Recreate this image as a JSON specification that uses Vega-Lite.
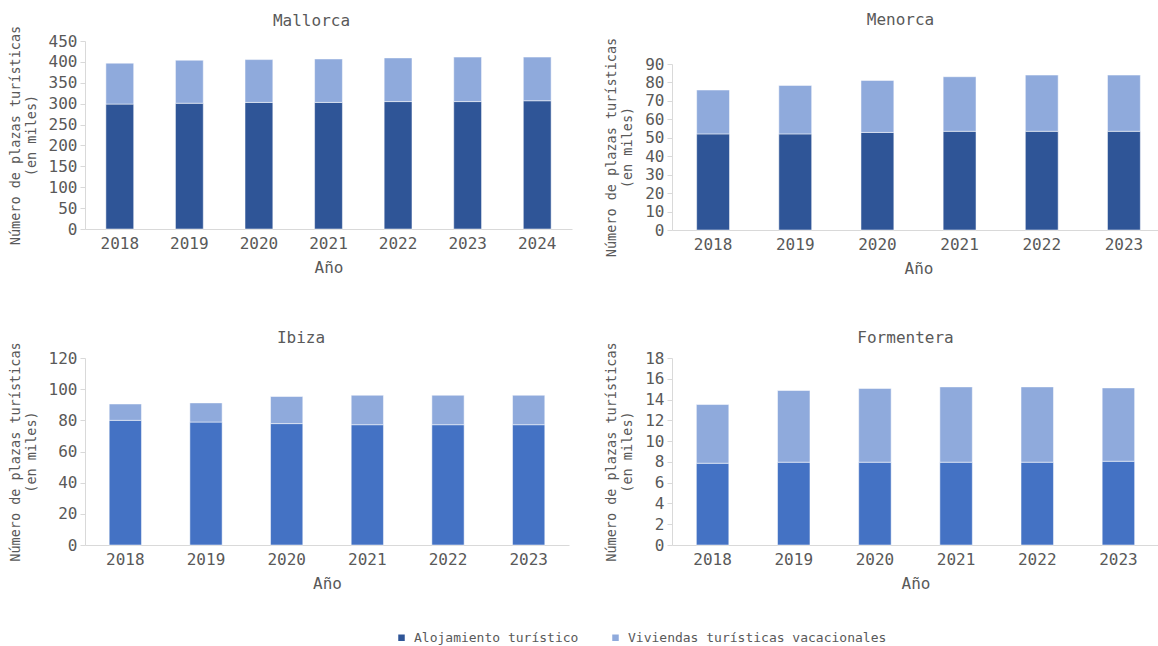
{
  "$schema": "https://vega.github.io/schema/vega-lite/v6.json",
  "padding": {"left": 8, "top": 12, "right": 0, "bottom": 5},
  "background": "white",
  "data": {"values": [
    {"isla": "Mallorca", "anio": "2018", "tipo": "Alojamiento turístico", "valor": 299},
    {"isla": "Mallorca", "anio": "2018", "tipo": "Viviendas turísticas vacacionales", "valor": 98},
    {"isla": "Mallorca", "anio": "2019", "tipo": "Alojamiento turístico", "valor": 301},
    {"isla": "Mallorca", "anio": "2019", "tipo": "Viviendas turísticas vacacionales", "valor": 103},
    {"isla": "Mallorca", "anio": "2020", "tipo": "Alojamiento turístico", "valor": 303},
    {"isla": "Mallorca", "anio": "2020", "tipo": "Viviendas turísticas vacacionales", "valor": 102.5},
    {"isla": "Mallorca", "anio": "2021", "tipo": "Alojamiento turístico", "valor": 303},
    {"isla": "Mallorca", "anio": "2021", "tipo": "Viviendas turísticas vacacionales", "valor": 104},
    {"isla": "Mallorca", "anio": "2022", "tipo": "Alojamiento turístico", "valor": 305},
    {"isla": "Mallorca", "anio": "2022", "tipo": "Viviendas turísticas vacacionales", "valor": 104.5},
    {"isla": "Mallorca", "anio": "2023", "tipo": "Alojamiento turístico", "valor": 305},
    {"isla": "Mallorca", "anio": "2023", "tipo": "Viviendas turísticas vacacionales", "valor": 106.5},
    {"isla": "Mallorca", "anio": "2024", "tipo": "Alojamiento turístico", "valor": 307},
    {"isla": "Mallorca", "anio": "2024", "tipo": "Viviendas turísticas vacacionales", "valor": 104.5},
    {"isla": "Menorca", "anio": "2018", "tipo": "Alojamiento turístico", "valor": 52.1},
    {"isla": "Menorca", "anio": "2018", "tipo": "Viviendas turísticas vacacionales", "valor": 23.8},
    {"isla": "Menorca", "anio": "2019", "tipo": "Alojamiento turístico", "valor": 52.1},
    {"isla": "Menorca", "anio": "2019", "tipo": "Viviendas turísticas vacacionales", "valor": 26.3},
    {"isla": "Menorca", "anio": "2020", "tipo": "Alojamiento turístico", "valor": 52.9},
    {"isla": "Menorca", "anio": "2020", "tipo": "Viviendas turísticas vacacionales", "valor": 28.2},
    {"isla": "Menorca", "anio": "2021", "tipo": "Alojamiento turístico", "valor": 53.5},
    {"isla": "Menorca", "anio": "2021", "tipo": "Viviendas turísticas vacacionales", "valor": 29.6},
    {"isla": "Menorca", "anio": "2022", "tipo": "Alojamiento turístico", "valor": 53.5},
    {"isla": "Menorca", "anio": "2022", "tipo": "Viviendas turísticas vacacionales", "valor": 30.5},
    {"isla": "Menorca", "anio": "2023", "tipo": "Alojamiento turístico", "valor": 53.5},
    {"isla": "Menorca", "anio": "2023", "tipo": "Viviendas turísticas vacacionales", "valor": 30.5},
    {"isla": "Ibiza", "anio": "2018", "tipo": "Alojamiento turístico", "valor": 80},
    {"isla": "Ibiza", "anio": "2018", "tipo": "Viviendas turísticas vacacionales", "valor": 10.5},
    {"isla": "Ibiza", "anio": "2019", "tipo": "Alojamiento turístico", "valor": 78.9},
    {"isla": "Ibiza", "anio": "2019", "tipo": "Viviendas turísticas vacacionales", "valor": 12.3},
    {"isla": "Ibiza", "anio": "2020", "tipo": "Alojamiento turístico", "valor": 77.9},
    {"isla": "Ibiza", "anio": "2020", "tipo": "Viviendas turísticas vacacionales", "valor": 17.4},
    {"isla": "Ibiza", "anio": "2021", "tipo": "Alojamiento turístico", "valor": 77.2},
    {"isla": "Ibiza", "anio": "2021", "tipo": "Viviendas turísticas vacacionales", "valor": 18.9},
    {"isla": "Ibiza", "anio": "2022", "tipo": "Alojamiento turístico", "valor": 77.2},
    {"isla": "Ibiza", "anio": "2022", "tipo": "Viviendas turísticas vacacionales", "valor": 18.9},
    {"isla": "Ibiza", "anio": "2023", "tipo": "Alojamiento turístico", "valor": 77.2},
    {"isla": "Ibiza", "anio": "2023", "tipo": "Viviendas turísticas vacacionales", "valor": 18.9},
    {"isla": "Formentera", "anio": "2018", "tipo": "Alojamiento turístico", "valor": 7.87},
    {"isla": "Formentera", "anio": "2018", "tipo": "Viviendas turísticas vacacionales", "valor": 5.65},
    {"isla": "Formentera", "anio": "2019", "tipo": "Alojamiento turístico", "valor": 7.97},
    {"isla": "Formentera", "anio": "2019", "tipo": "Viviendas turísticas vacacionales", "valor": 6.9},
    {"isla": "Formentera", "anio": "2020", "tipo": "Alojamiento turístico", "valor": 7.97},
    {"isla": "Formentera", "anio": "2020", "tipo": "Viviendas turísticas vacacionales", "valor": 7.1},
    {"isla": "Formentera", "anio": "2021", "tipo": "Alojamiento turístico", "valor": 7.97},
    {"isla": "Formentera", "anio": "2021", "tipo": "Viviendas turísticas vacacionales", "valor": 7.25},
    {"isla": "Formentera", "anio": "2022", "tipo": "Alojamiento turístico", "valor": 7.97},
    {"isla": "Formentera", "anio": "2022", "tipo": "Viviendas turísticas vacacionales", "valor": 7.25},
    {"isla": "Formentera", "anio": "2023", "tipo": "Alojamiento turístico", "valor": 8.06},
    {"isla": "Formentera", "anio": "2023", "tipo": "Viviendas turísticas vacacionales", "valor": 7.06}
  ]},
  "spacing": 53,
  "vconcat": [
    {
      "spacing": 32,
      "hconcat": [
        {
          "title": {"text": "Mallorca", "dx": -17, "offset": -3.3},
          "width": 487, "height": 188,
          "transform": [{"filter": "datum.isla === 'Mallorca'"}],
          "mark": {"type": "bar", "stroke": "white", "strokeWidth": 1, "strokeOpacity": 0.5},
          "encoding": {
            "x": {"field": "anio", "type": "ordinal", "title": "Año", "scale": {"paddingInner": 0.6, "paddingOuter": 0.3}},
            "y": {"field": "valor", "type": "quantitative", "stack": "zero", "title": ["Número de plazas turísticas", "(en miles)"], "scale": {"domain": [0, 450], "nice": false}, "axis": {"values": [0, 50, 100, 150, 200, 250, 300, 350, 400, 450]}},
            "color": {"field": "tipo", "type": "nominal", "scale": {"domain": ["Alojamiento turístico", "Viviendas turísticas vacacionales"], "range": ["#2F5597", "#8FAADC"]},
              "legend": {"orient": "none", "legendX": 310, "legendY": 590, "direction": "horizontal", "title": null, "symbolType": "square", "symbolSize": 64, "labelFontSize": 13, "labelColor": "#595959", "labelLimit": 500, "columnPadding": 29, "labelOffset": 6}},
            "order": {"field": "tipo", "sort": "ascending"}
          }
        },
        {
          "title": {"text": "Menorca", "dx": -18, "offset": 9.2},
          "width": 493, "height": 189,
          "transform": [{"filter": "datum.isla === 'Menorca'"}],
          "mark": {"type": "bar", "stroke": "white", "strokeWidth": 1, "strokeOpacity": 0.5},
          "encoding": {
            "x": {"field": "anio", "type": "ordinal", "title": "Año", "scale": {"paddingInner": 0.6, "paddingOuter": 0.3}},
            "y": {"field": "valor", "type": "quantitative", "stack": "zero", "title": ["Número de plazas turísticas", "(en miles)"], "scale": {"domain": [0, 90], "nice": false, "range": [189, 23]}, "axis": {"values": [0, 10, 20, 30, 40, 50, 60, 70, 80, 90]}},
            "color": {"field": "tipo", "type": "nominal"},
            "order": {"field": "tipo", "sort": "ascending"}
          }
        }
      ]
    },
    {
      "spacing": 35,
      "hconcat": [
        {
          "title": {"text": "Ibiza", "dx": -26, "offset": -3.8},
          "width": 484, "height": 187,
          "transform": [{"filter": "datum.isla === 'Ibiza'"}],
          "mark": {"type": "bar", "stroke": "white", "strokeWidth": 1, "strokeOpacity": 0.5},
          "encoding": {
            "x": {"field": "anio", "type": "ordinal", "title": "Año", "scale": {"paddingInner": 0.6, "paddingOuter": 0.3}},
            "y": {"field": "valor", "type": "quantitative", "stack": "zero", "title": ["Número de plazas turísticas", "(en miles)"], "scale": {"domain": [0, 120], "nice": false}, "axis": {"values": [0, 20, 40, 60, 80, 100, 120]}},
            "fill": {"field": "tipo", "type": "nominal", "scale": {"domain": ["Alojamiento turístico", "Viviendas turísticas vacacionales"], "range": ["#4472C4", "#8FAADC"]}, "legend": null},
            "order": {"field": "tipo", "sort": "ascending"}
          }
        },
        {
          "title": {"text": "Formentera", "dx": -10, "offset": -3.8},
          "width": 487, "height": 187,
          "transform": [{"filter": "datum.isla === 'Formentera'"}],
          "mark": {"type": "bar", "stroke": "white", "strokeWidth": 1, "strokeOpacity": 0.5},
          "encoding": {
            "x": {"field": "anio", "type": "ordinal", "title": "Año", "scale": {"paddingInner": 0.6, "paddingOuter": 0.3}},
            "y": {"field": "valor", "type": "quantitative", "stack": "zero", "title": ["Número de plazas turísticas", "(en miles)"], "scale": {"domain": [0, 18], "nice": false}, "axis": {"values": [0, 2, 4, 6, 8, 10, 12, 14, 16, 18]}},
            "fill": {"field": "tipo", "type": "nominal", "legend": null},
            "order": {"field": "tipo", "sort": "ascending"}
          }
        }
      ]
    }
  ],
  "config": {
    "font": "DejaVu Sans Mono",
    "view": {"stroke": null},
    "axis": {"grid": false, "labelFontSize": 16, "labelColor": "#595959", "titleColor": "#595959", "titleFontWeight": "normal", "domainColor": "#d9d9d9", "tickColor": "#d9d9d9"},
    "axisX": {"ticks": false, "labelAngle": 0, "labelPadding": 6, "titleFontSize": 16, "titlePadding": 8},
    "axisY": {"tickSize": 5, "titleFontSize": 13.5, "titleLineHeight": 16, "labelPadding": 3, "titlePadding": 10},
    "title": {"fontSize": 16, "fontWeight": "normal", "color": "#595959"},
    "legend": {"labelFont": "DejaVu Sans Mono"}
  }
}
